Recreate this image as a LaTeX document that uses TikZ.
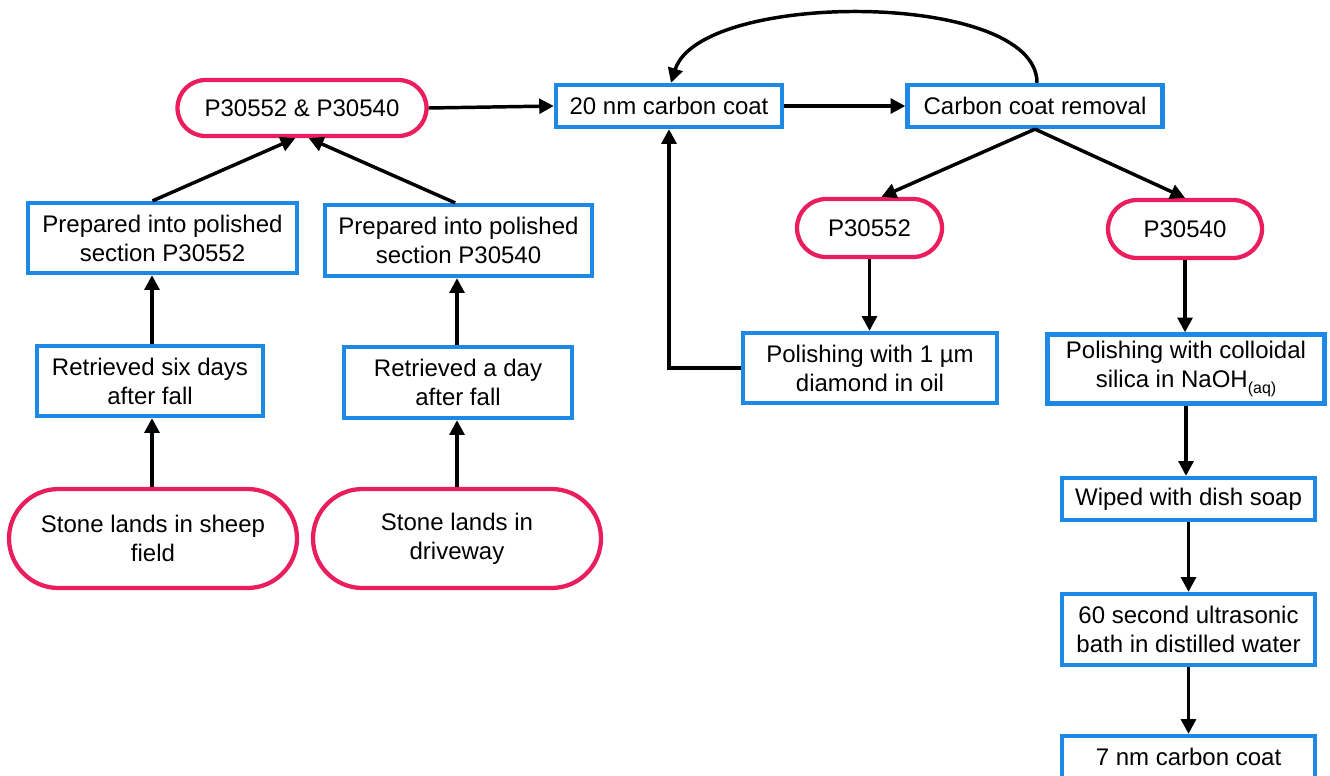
\documentclass[tikz,border=0pt]{standalone}
\usepackage{fontspec}
\setmainfont{Liberation Sans}
\usetikzlibrary{arrows.meta,shapes.misc}
\definecolor{pinkc}{RGB}{234,30,95}
\definecolor{bluec}{RGB}{30,136,229}
\tikzset{
  bbox/.style={draw=bluec, line width=3.2pt, rectangle, align=center, inner sep=0pt, fill=white},
  pbox/.style={draw=pinkc, line width=3.2pt, rounded rectangle, align=center, inner sep=0pt, fill=white},
  arr/.style={line width=2.6pt, -{Triangle[length=11pt,width=11pt]}},
  lbl/.style={font=\fontsize{18}{21.75}\selectfont}
}
\begin{document}
\begin{tikzpicture}[x=0.75pt,y=-0.75pt]
\useasboundingbox (0,0) rectangle (1330,775);
% top row
\node[pbox,lbl,minimum width=186.75pt,minimum height=42pt] (pp) at (302,108) {P30552 \& P30540};
\node[bbox,lbl,minimum width=169.5pt,minimum height=31.5pt] (c20) at (669,106) {20 nm carbon coat};
\node[bbox,lbl,minimum width=191.25pt,minimum height=31.5pt] (ccr) at (1035,106) {Carbon coat removal};
% middle right
\node[pbox,lbl,minimum width=108.75pt,minimum height=43.5pt] (p52) at (869.5,228) {P30552};
\node[pbox,lbl,minimum width=115.5pt,minimum height=43.5pt] (p40) at (1185,229) {P30540};
\node[bbox,lbl,minimum width=190.5pt,minimum height=52.5pt] (pol1) at (870,368) {Polishing with 1 µm\\diamond in oil};
\node[bbox,lbl,minimum width=207.75pt,minimum height=51.75pt] (pol2) at (1186,369) {Polishing with colloidal\\silica in NaOH\raisebox{-0.45ex}{\fontsize{12}{12}\selectfont(aq)}};
\node[bbox,lbl,minimum width=189.75pt,minimum height=31.5pt] (wip) at (1188.5,499) {Wiped with dish soap};
\node[bbox,lbl,minimum width=189.75pt,minimum height=53.25pt] (ult) at (1188.5,629.5) {60 second ultrasonic\\bath in distilled water};
\node[bbox,lbl,minimum width=189.75pt,minimum height=31.5pt] (c7) at (1188.5,757) {7 nm carbon coat};
% left side
\node[bbox,lbl,minimum width=201.75pt,minimum height=52.5pt] (prep1) at (162.5,238) {Prepared into polished\\section P30552};
\node[bbox,lbl,minimum width=200.25pt,minimum height=53.25pt] (prep2) at (458.5,240.5) {Prepared into polished\\section P30540};
\node[bbox,lbl,minimum width=169.5pt,minimum height=52.5pt] (ret1) at (150,381) {Retrieved six days\\after fall};
\node[bbox,lbl,minimum width=171pt,minimum height=53.25pt] (ret2) at (458,382.5) {Retrieved a day\\after fall};
\node[pbox,lbl,minimum width=216pt,minimum height=74.25pt] (st1) at (153,538.5) {Stone lands in sheep\\field};
\node[pbox,lbl,minimum width=216pt,minimum height=74.25pt] (st2) at (457,538.5) {Stone lands in\\driveway};
% connectors
\draw[arr] ([xshift=-0.75pt]st1.north) -- ([xshift=-0.75pt]st1.north |- ret1.south);
\draw[arr] (st2.north) -- (st2.north |- ret2.south);
\draw[arr] ([xshift=1.5pt]ret1.north) -- ([xshift=1.5pt]ret1.north |- prep1.south);
\draw[arr] ([xshift=-0.75pt]ret2.north) -- ([xshift=-0.75pt]ret2.north |- prep2.south);
\draw[arr] ([xshift=-7.5pt]prep1.north) -- ([xshift=-5pt]pp.south);
\draw[arr] ([xshift=-2.5pt]prep2.north) -- ([xshift=5pt]pp.south);
\draw[arr] (pp.east) -- (c20.west);
\draw[arr] (c20.east) -- (ccr.west);
\draw[arr] ([xshift=1.5pt]ccr.north) .. controls (1037,-10) and (700,-10) .. ([xshift=1.5pt]c20.north);
\draw[arr] (ccr.south) -- ([xshift=9pt]p52.north);
\draw[arr] (ccr.south) -- (p40.north);
\draw[arr] (p52.south) -- (p52.south |- pol1.north);
\draw[arr] (pol1.west) -| (c20.south);
\draw[arr] (p40.south) -- (p40.south |- pol2.north);
\draw[arr] (pol2.south) -- (pol2.south |- wip.north);
\draw[arr] (wip.south) -- (ult.north);
\draw[arr] (ult.south) -- (c7.north);
\end{tikzpicture}
\end{document}
